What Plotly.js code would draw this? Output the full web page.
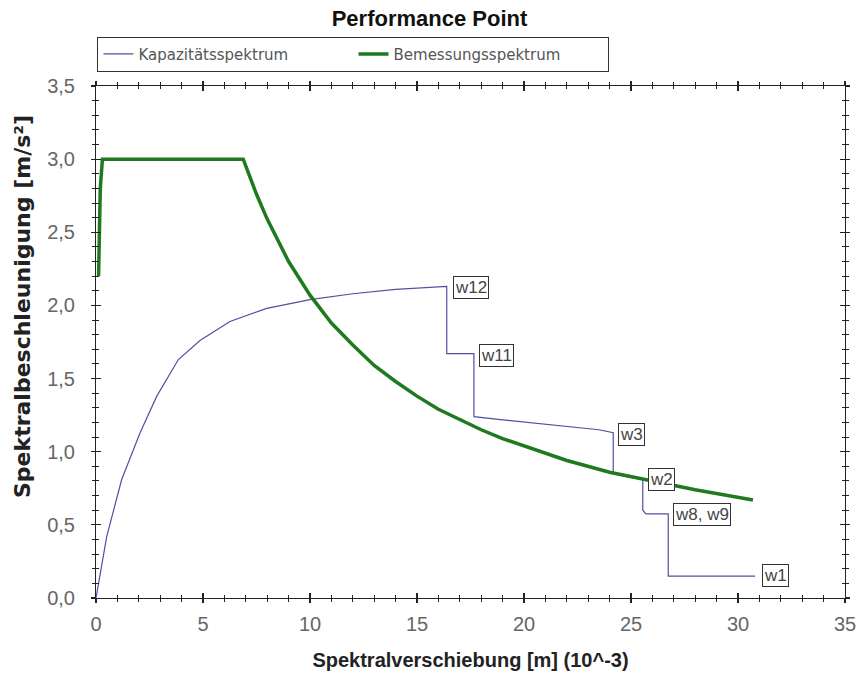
<!DOCTYPE html>
<html>
<head>
<meta charset="utf-8">
<script src="https://cdn.plot.ly/plotly-3.0.1.min.js"></script>
<style>html,body{margin:0;padding:0;background:#fff;}#chart{width:859px;height:673px;}</style>
</head>
<body>
<div id="chart"></div>
<script>
// Kapazitätsspektrum (capacity spectrum)
const capX = [0, 0.5, 1.2, 2.06, 2.84, 3.85, 4.86, 6.26, 7.98, 10, 12, 14, 16.39, 16.39, 17.66, 17.66, 18.9, 21, 23.5, 24.17, 24.17, 24.8, 25.55, 25.55, 25.7, 26.74, 26.74, 30.8];
const capY = [0, 0.42, 0.81, 1.13, 1.38, 1.63, 1.76, 1.89, 1.98, 2.04, 2.08, 2.11, 2.13, 1.67, 1.67, 1.24, 1.22, 1.19, 1.15, 1.13, 0.85, 0.83, 0.81, 0.60, 0.575, 0.575, 0.15, 0.15];
// Bemessungsspektrum (design spectrum)
const desX = [0.12, 0.2, 0.3, 6.88, 7.5, 8, 9, 10, 11, 12, 13, 14, 15, 16, 17, 18, 19, 20, 22, 24, 26, 28, 30.7];
const desY = [2.2, 2.8, 3.0, 3.0, 2.76, 2.59, 2.3, 2.07, 1.88, 1.73, 1.59, 1.48, 1.38, 1.29, 1.22, 1.15, 1.09, 1.04, 0.94, 0.86, 0.80, 0.74, 0.67];
// Point labels
const labelText = ["w12", "w11", "w3", "w2", "w8, w9", "w1"];
const labelX = [16.68, 17.9, 24.4, 25.8, 26.98, 31.1];
const labelY = [2.12, 1.66, 1.12, 0.81, 0.57, 0.155];

const FONT = "Liberation Sans, Arial, sans-serif";

const traces = [
  {x: capX, y: capY, type: 'scatter', mode: 'lines', name: 'Kapazitätsspektrum',
   line: {color: '#5050a0', width: 1.2}},
  {x: desX, y: desY, type: 'scatter', mode: 'lines', name: 'Bemessungsspektrum',
   line: {color: '#1f7a1f', width: 3.5}}
];

const annotations = labelText.map((t, i) => ({
  x: labelX[i], y: labelY[i], xref: 'x', yref: 'y', text: t, showarrow: false,
  xanchor: 'left', yanchor: 'middle', bgcolor: '#fff', bordercolor: '#333', borderwidth: 1,
  borderpad: 1, font: {family: FONT, size: 17, color: '#444'}
}));
// y-axis title (placed like the original, slightly above the axis centre)
annotations.push({
  text: '<b>Spektralbeschleunigung [m/s²]</b>', xref: 'paper', yref: 'paper',
  x: -0.099, y: 0.57, xanchor: 'center', yanchor: 'middle', textangle: -90, showarrow: false,
  font: {family: 'DejaVu Sans, sans-serif', size: 22, color: '#222'}
});

const axCommon = {
  showline: true, linecolor: '#222', linewidth: 1, mirror: 'allticks',
  showgrid: false, zeroline: false, ticks: 'inside', tickcolor: '#222', ticklen: 5, tickwidth: 1.2,
  tickfont: {family: FONT, size: 20, color: '#666'}
};

const layout = {
  width: 859, height: 673,
  margin: {l: 96, r: 14, t: 86, b: 75},
  paper_bgcolor: '#fff', plot_bgcolor: '#fff',
  separators: ', ',
  title: {text: '<b>Performance Point</b>', x: 0.5, xanchor: 'center', y: 0.973, yanchor: 'middle',
          font: {family: FONT, size: 22, color: '#111'}},
  showlegend: true,
  legend: {orientation: 'h', x: 0.002, xanchor: 'left', y: 1.028, yanchor: 'bottom',
           bordercolor: '#333', borderwidth: 1, bgcolor: '#fff',
           font: {family: 'DejaVu Sans, sans-serif', size: 15, color: '#555'}, entrywidth: 210, tracegroupgap: 0},
  xaxis: Object.assign({}, axCommon, {
    range: [0, 35], tickmode: 'linear', tick0: 0, dtick: 5, ticklabelstandoff: 8,
    minor: {dtick: 1, ticks: 'inside', ticklen: 3, tickcolor: '#222', tickwidth: 1},
    title: {text: '<b>Spektralverschiebung [m] (10^-3)</b>', standoff: 18,
            font: {family: FONT, size: 20, color: '#222'}}
  }),
  yaxis: Object.assign({}, axCommon, {
    range: [0, 3.5], tickmode: 'linear', tick0: 0, dtick: 0.5, tickformat: '.1f', ticklabelstandoff: 16,
    minor: {dtick: 0.1, ticks: 'inside', ticklen: 3, tickcolor: '#222', tickwidth: 1}
  }),
  xaxis2: {overlaying: 'x', matches: 'x', anchor: 'y', side: 'bottom', showticklabels: false,
    showline: false, showgrid: false, zeroline: false, ticks: 'outside', ticklen: 4, tickcolor: '#222', tickwidth: 1.2,
    mirror: 'allticks', tickmode: 'linear', tick0: 0, dtick: 5,
    minor: {dtick: 1, ticks: 'outside', ticklen: 3, tickcolor: '#222', tickwidth: 1}},
  yaxis2: {overlaying: 'y', matches: 'y', anchor: 'x', side: 'left', showticklabels: false,
    showline: false, showgrid: false, zeroline: false, ticks: 'outside', ticklen: 4, tickcolor: '#222', tickwidth: 1.2,
    mirror: 'allticks', tickmode: 'linear', tick0: 0, dtick: 0.5,
    minor: {dtick: 0.1, ticks: 'outside', ticklen: 3, tickcolor: '#222', tickwidth: 1}},
  annotations: annotations
};

// invisible helper trace to activate the overlaid tick axes
traces.push({x: [null], y: [null], xaxis: 'x2', yaxis: 'y2', type: 'scatter', mode: 'lines',
             showlegend: false, hoverinfo: 'skip'});

Plotly.newPlot('chart', traces, layout, {displayModeBar: false, staticPlot: true});
</script>
</body>
</html>
